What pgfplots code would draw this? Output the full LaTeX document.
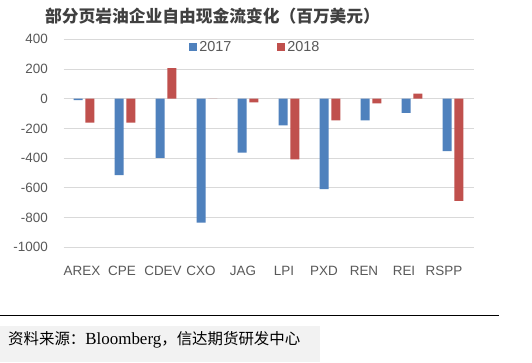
\documentclass[border=0pt]{standalone}
\usepackage{pgfplots}
\pgfplotsset{compat=1.18}
\usepackage{fontspec}
\setmainfont{Liberation Sans}
\newfontfamily\cjk{Noto Sans CJK SC}
\newfontfamily\tnr{Liberation Serif}
\definecolor{cblue}{HTML}{4F81BD}
\definecolor{cred}{HTML}{C0504D}
\definecolor{tgray}{HTML}{595959}
\definecolor{titlegray}{HTML}{404040}
\definecolor{ggray}{HTML}{D9D9D9}
\begin{document}
\begin{tikzpicture}[x=1bp,y=1bp]
\path[use as bounding box] (0,0) rectangle (532,362);
\fill[white] (0,0) rectangle (532,362);
\fill[black!5] (0,0) rectangle (320,36);
\draw[line width=0.9bp] (0,47) -- (499,47);
\node[anchor=west, inner sep=0, font=\fontsize{15.5}{15.5}\selectfont] at (8,22) {\cjk 资料来源：\tnr\fontsize{17}{17}\selectfont Bloomberg\cjk\fontsize{15.5}{15.5}\selectfont ，信达期货研发中心};
\node[anchor=west, inner sep=0, font=\fontsize{16.8}{16.8}\selectfont\bfseries, text=titlegray] at (45,345.5) {\cjk 部分页岩油企业自由现金流变化（百万美元）};
\begin{axis}[
  at={(63.5bp,114.7bp)}, anchor=south west,
  scale only axis, width=410bp, height=208bp,
  ymin=-1000, ymax=400, xmin=-0.5, xmax=9.5,
  axis line style={draw=none},
  major tick length=0,
  ytick={-1000,-800,...,400},
  ymajorgrids, grid style={ggray, line width=0.8bp},
  xtick={-0.049,0.927,1.927,2.854,3.878,4.878,5.854,6.829,7.805,8.78},
  xticklabels={AREX,CPE,CDEV,CXO,JAG,LPI,PXD,REN,REI,RSPP},
  /pgf/number format/assume math mode=true,
  /pgf/number format/1000 sep={},
  tick label style={font=\fontsize{13.5}{13.5}\selectfont, text=tgray},
  yticklabel style={anchor=east, inner sep=0, xshift=-15.5bp},
  xticklabel style={anchor=center, inner sep=0, yshift=-24bp},
  ybar=2.7bp, bar width=9bp,
  legend style={at={(0.468,0.963)}, anchor=center, draw=none, fill=none,
    legend columns=2, font=\fontsize{14.5}{14.5}\selectfont, text=tgray,
    /tikz/every even column/.append style={column sep=44bp}},
  legend image code/.code={\fill[#1] (0bp,-4bp) rectangle (8bp,4bp);},
]
\addplot[fill=cblue, draw=none] coordinates {(0,-10) (1,-515) (2,-398) (3,-834) (4,-362) (5,-179) (6,-608) (7,-145) (8,-96) (9,-353)};
\addplot[fill=cred, draw=none] coordinates {(0,-161) (1,-161) (2,206) (3,0) (4,-25) (5,-409) (6,-145) (7,-31) (8,34) (9,-687)};
\legend{2017,2018}
\end{axis}
\end{tikzpicture}
\end{document}
